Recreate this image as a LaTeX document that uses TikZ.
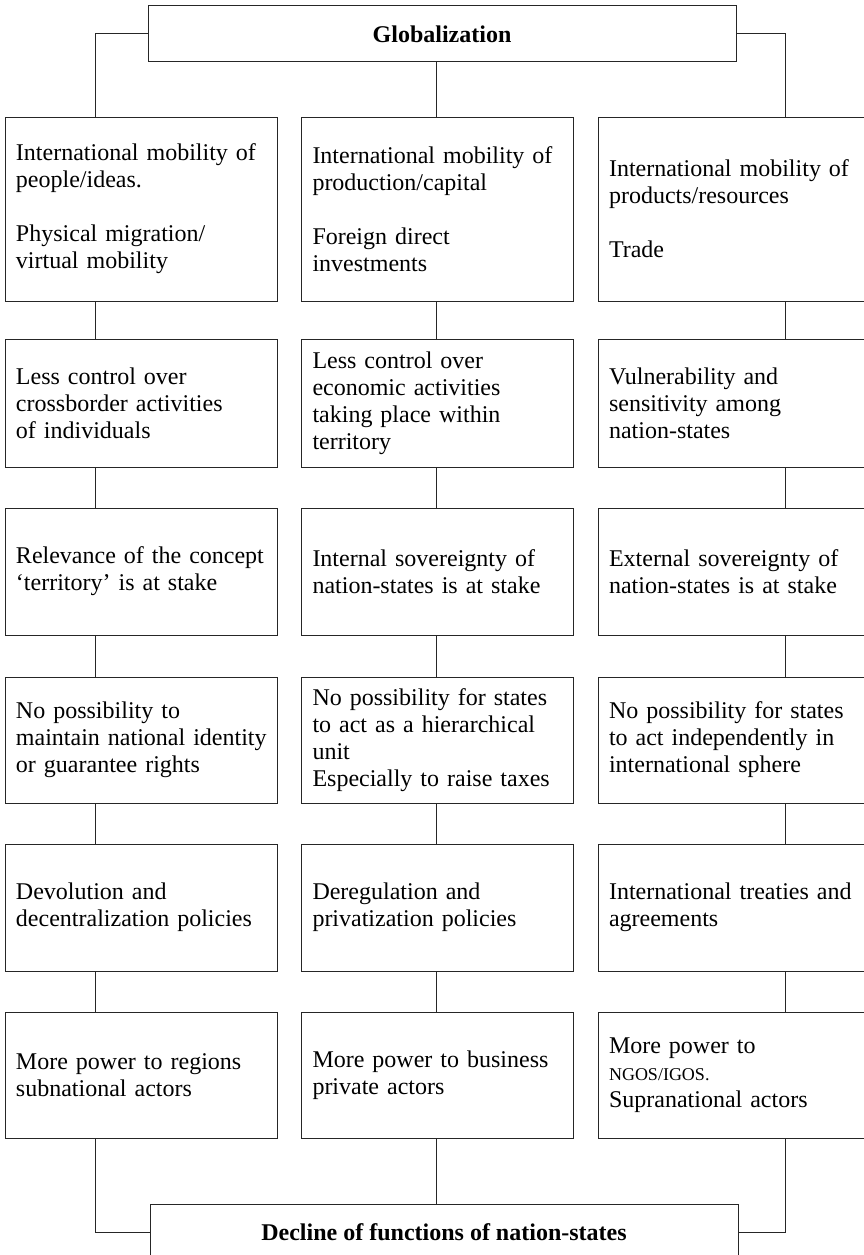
\documentclass[tikz,border=0pt]{standalone}
\usepackage{fontspec}
\setmainfont{Liberation Serif}
\begin{document}
\begin{tikzpicture}[x=1pt,y=-1pt,
  cbox/.style={draw=black!85, line width=1pt, rectangle, inner xsep=11pt, inner ysep=0pt,
    text width=250pt, align=left, font=\fontsize{24}{27}\selectfont, minimum height=#1},
  tbox/.style={draw=black!85, line width=1pt, rectangle, minimum width=588pt, minimum height=56pt,
    inner sep=0pt, font=\fontsize{24}{27}\selectfont\bfseries},
  link/.style={draw=black!85, line width=1pt}]
\useasboundingbox (0,0) rectangle (864,1255);
\clip (0,0) rectangle (864,1255);
\fill[white] (0,0) rectangle (864,1255);
\coordinate (cL) at (95,0);
\coordinate (cM) at (436,0);
\coordinate (cR) at (785,0);
% top and bottom
\node[tbox] (g) at (442,34) {Globalization};
\node[tbox] (d) at (444,1232) {Decline of functions of nation-states};
% row 1
\node[cbox=184pt] (a1) at (141,209) {International mobility of\\people/ideas.\\[27pt]Physical migration/\\virtual mobility};
\node[cbox=184pt] (b1) at (437.5,209) {International mobility of\\production/capital\\[27pt]Foreign direct\\investments};
\node[cbox=184pt] (c1) at (734,209) {International mobility of\\products/resources\\[27pt]Trade};
% row 2
\node[cbox=128pt] (a2) at (141,403) {Less control over\\crossborder activities\\of individuals};
\node[cbox=128pt] (b2) at (437.5,403) {Less control over\\economic activities\\taking place within\\territory};
\node[cbox=128pt] (c2) at (734,403) {Vulnerability and\\sensitivity among\\nation-states};
% row 3
\node[cbox=127pt] (a3) at (141,571.5) {\mbox{Relevance of the concept}\\‘territory’ is at stake};
\node[cbox=127pt] (b3) at (437.5,571.5) {Internal sovereignty of\\nation-states is at stake};
\node[cbox=127pt] (c3) at (734,571.5) {External sovereignty of\\nation-states is at stake};
% row 4
\node[cbox=126pt] (a4) at (141,740) {No possibility to\\\mbox{maintain national identity}\\or guarantee rights};
\node[cbox=126pt] (b4) at (437.5,740) {No possibility for states\\to act as a hierarchical\\unit\\Especially to raise taxes};
\node[cbox=126pt] (c4) at (734,740) {No possibility for states\\to act independently in\\international sphere};
% row 5
\node[cbox=127pt] (a5) at (141,907.5) {Devolution and\\decentralization policies};
\node[cbox=127pt] (b5) at (437.5,907.5) {Deregulation and\\privatization policies};
\node[cbox=127pt] (c5) at (734,907.5) {\mbox{International treaties and}\\agreements};
% row 6
\node[cbox=126pt] (a6) at (141,1075) {More power to regions\\subnational actors};
\node[cbox=126pt] (b6) at (437.5,1075) {More power to business\\private actors};
\node[cbox=126pt] (c6) at (734,1075) {More power to\\{\fontsize{18}{27}\selectfont NGOS/IGOS.}\\Supranational actors};
% connectors top
\draw[link] (g.west) -| (a1.north -| cL);
\draw[link] (g.east) -| (c1.north -| cR);
\draw[link] (g.south -| cM) -- (b1.north -| cM);
% connectors between rows
\foreach \u/\v in {1/2,2/3,3/4,4/5,5/6}{
  \draw[link] (a\u.south -| cL) -- (a\v.north -| cL);
  \draw[link] (b\u.south -| cM) -- (b\v.north -| cM);
  \draw[link] (c\u.south -| cR) -- (c\v.north -| cR);
}
% connectors bottom
\draw[link] (a6.south -| cL) |- (d.west);
\draw[link] (c6.south -| cR) |- (d.east);
\draw[link] (b6.south -| cM) -- (d.north -| cM);
\end{tikzpicture}
\end{document}
